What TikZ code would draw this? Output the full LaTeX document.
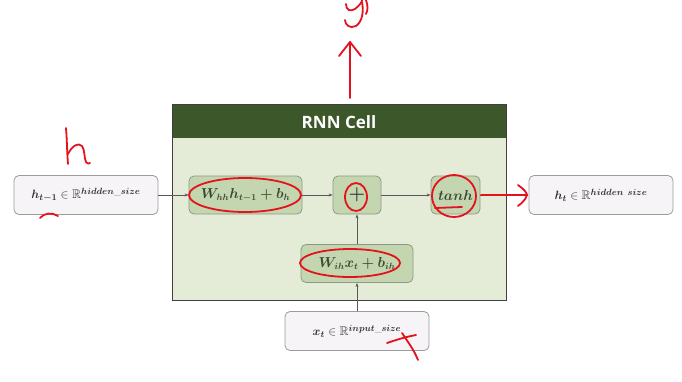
\documentclass[tikz,border=0pt]{standalone}
\usepackage{fontspec}
\usepackage{amsmath,amssymb,bm}
\newfontfamily\headfont{Open Sans}
\usetikzlibrary{arrows.meta}
\definecolor{hdr}{HTML}{3C5729}
\definecolor{cellbg}{HTML}{E4ECD8}
\definecolor{opbg}{HTML}{C4D6B0}
\definecolor{opdraw}{HTML}{8C9A84}
\definecolor{iobg}{HTML}{F6F4F6}
\definecolor{iodraw}{HTML}{9C9C9C}
\definecolor{optext}{HTML}{3C4A32}
\definecolor{iotext}{HTML}{333333}
\definecolor{pen}{HTML}{E3121C}
\begin{document}
\begin{tikzpicture}[x=1pt,y=-1pt,
  iobox/.style={draw=iodraw,fill=iobg,rounded corners=5pt,line width=0.8pt,
    minimum width=144pt,minimum height=39pt,inner sep=0pt,text=iotext,
    font=\fontsize{12.5}{14}\selectfont},
  opbox/.style={draw=opdraw,fill=opbg,rounded corners=5pt,line width=0.8pt,
    minimum height=38pt,inner sep=0pt,text=optext,font=\fontsize{13.5}{15}\selectfont},
  conn/.style={draw=black!65,line width=0.8pt,-{Stealth[length=4pt,width=3pt]}},
  ink/.style={draw=pen,line width=1.8pt,line cap=round,line join=round}]
\useasboundingbox (0,0) rectangle (682,381);
% cell
\node[draw=black!75,fill=cellbg,line width=1pt,minimum width=334pt,minimum height=196pt,inner sep=0pt] (cell) at (339,202) {};
\node[fill=hdr,minimum width=333pt,minimum height=33pt,inner sep=0pt,anchor=north] (hdr) at (339,104.5) {};
\node[text=white,font=\headfont\bfseries\fontsize{17}{19}\selectfont] (title) at (339,122) {RNN Cell};
% boxes
\node[iobox] (hin) at (86,195) {$\bm{h_{t-1}}\in\mathbb{R}^{\bm{hidden\_size}}$};
\node[iobox] (hout) at (601,195) {$\bm{h_{t}}\in\mathbb{R}^{\bm{hidden\ size}}$};
\node[iobox] (xin) at (357,331) {$\bm{x_{t}}\in\mathbb{R}^{\bm{input\_size}}$};
\node[opbox,minimum width=113pt] (whh) at (245.5,195) {$\bm{W_{hh}h_{t-1}+b_{h}}$};
\node[opbox,minimum width=48pt,font=\bfseries\fontsize{19}{20}\selectfont,text=black!80] (plus) at (357,195) {+};
\node[opbox,minimum width=49pt] (tanh) at (455.5,195) {$\bm{tanh}$};
\node[opbox,minimum width=112pt] (wih) at (357,263.5) {$\bm{W_{ih}x_{t}+b_{ih}}$};
% connectors
\draw[conn] (hin) -- (whh);
\draw[conn] (whh) -- (plus);
\draw[conn] (plus) -- (tanh);
\draw[conn] (tanh) -- (hout);
\draw[conn] (wih) -- (plus);
\draw[conn] (xin) -- (wih);
% red annotations
\coordinate (ytop) at (350,42);
\coordinate (ybot) at (350,98);
\draw[ink] (ybot) -- (ytop);
\draw[ink] (339,56) -- (350,42) -- (361,56);
% y
\draw[ink] (346,4) .. controls (346,10) and (350,12) .. (355,9) .. controls (360,5) and (362,2) .. (362,0);
\draw[ink] (362,2) .. controls (364,12) and (362,22) .. (356,26) .. controls (350,29) and (345,25) .. (345,20);
\draw[ink] (366,0) .. controls (368,6) and (368,10) .. (366,14);
% h
\draw[ink] (66,128) .. controls (67,140) and (67,152) .. (68,164);
\draw[ink] (68,154) .. controls (72,146) and (78,142) .. (82,146) .. controls (85,150) and (84,158) .. (86,162) .. controls (87,164) and (89,164) .. (90,163);
% ellipses
\draw[ink] (245,195) ellipse [x radius=56pt,y radius=17pt];
\draw[ink] (356,197) ellipse [x radius=11pt,y radius=14pt];
\draw[ink] (454,196) ellipse [x radius=22pt,y radius=21pt];
\draw[ink] (435,208) -- (462,207);
\draw[ink] (350,263) ellipse [x radius=50pt,y radius=14pt];
% tanh -> output
\draw[ink] (481,195) -- (527,195);
\draw[ink] (518,185) .. controls (524,189) and (527,193) .. (527,195) .. controls (526,199) and (522,203) .. (518,206);
% x mark
\draw[ink] (387,343) .. controls (396,340) and (405,337) .. (416,335);
\draw[ink] (402,333) .. controls (408,342) and (414,350) .. (418,360);
% curl under h box
\draw[ink] (40,218) .. controls (44,213) and (52,212) .. (58,216);
\end{tikzpicture}
\end{document}
